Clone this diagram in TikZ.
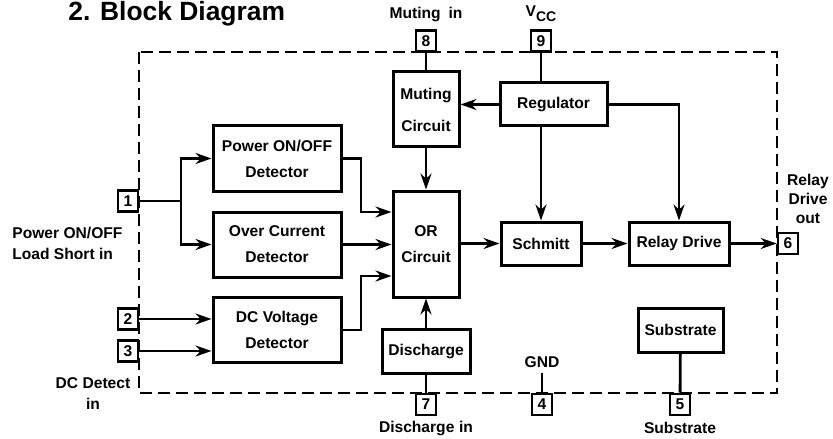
\documentclass[tikz,border=0pt]{standalone}
\usepackage{fontspec}
\setmainfont{Liberation Sans}
\usepackage{tikz}
\usetikzlibrary{arrows.meta,positioning,calc}

\begin{document}
\begin{tikzpicture}[x=0.5pt,y=-0.5pt,
  font=\bfseries\fontsize{7.8}{13}\selectfont,
  blk/.style={draw,line width=1.5pt,align=center,inner sep=0pt},
  pin/.style={draw,line width=1.3pt,minimum width=10pt,minimum height=10.5pt,inner sep=0pt},
  lbl/.style={align=center,inner sep=0pt},
  arr/.style={-{Stealth[length=8pt,width=5.5pt]},line width=1.4pt},
  wire/.style={line width=1.4pt}]
  \useasboundingbox (0,0) rectangle (833,438);
  \node[anchor=west,inner sep=0pt,font=\bfseries\fontsize{13.2}{15}\selectfont] (title) at (68,14) {2. Block Diagram};
  % package outline
  \draw[line width=1.4pt,dash pattern=on 6pt off 3pt] (139,52) rectangle (777,393);
  % blocks
  \node[blk,minimum width=64pt,minimum height=32.5pt] (pwr) at (277,158.5) {Power ON/OFF\\Detector};
  \node[blk,minimum width=64pt,minimum height=32.5pt] (ocd) at (277,244.5) {Over Current\\Detector};
  \node[blk,minimum width=64pt,minimum height=32.5pt] (dcv) at (277,330) {DC Voltage\\Detector};
  \node[blk,minimum width=33pt,minimum height=53pt] (orc) at (426,244) {OR\\Circuit};
  \node[blk,minimum width=33pt,minimum height=37.5pt] (mute) at (426,109.5) {Muting\\[3pt]Circuit};
  \node[blk,minimum width=53.5pt,minimum height=21.5pt] (reg) at (553.5,104.5) {Regulator};
  \node[blk,minimum width=40pt,minimum height=21.5pt] (sch) at (541,243.5) {Schmitt};
  \node[blk,minimum width=50pt,minimum height=21.5pt] (rly) at (679,243.5) {Relay Drive};
  \node[blk,minimum width=44pt,minimum height=22pt] (dis) at (426,351) {Discharge};
  \node[blk,minimum width=42.5pt,minimum height=22pt] (sub) at (680.5,330) {Substrate};
  % pins
  \node[pin] (p1) at (128,201) {1};
  \node[pin] (p2) at (128,319) {2};
  \node[pin] (p3) at (128,351) {3};
  \node[pin] (p8) at (426,41) {8};
  \node[pin] (p9) at (541,41) {9};
  \node[pin] (p6) at (788,243.5) {6};
  \node[pin] (p7) at (426,404.5) {7};
  \node[pin] (p4) at (542,404.5) {4};
  \node[pin] (p5) at (680,404.5) {5};
  % pin labels
  \node[lbl] (l8) at (426,15) {Muting\hspace{0.5em}in};
  \node[lbl] (l9) at (541,14) {V\raisebox{-2.5pt}{\fontsize{7}{8}\selectfont CC}};
  \node[lbl] (l6) at (808,199) {Relay\\[-3.5pt]Drive\\[-3.5pt]out};
  \node[lbl,align=left,anchor=west] (l1) at (12,243.5) {Power ON/OFF\\[-2.5pt]Load Short in};
  \node[lbl] (l23) at (93,394) {DC Detect\\[-2.5pt]in};
  \node[lbl] (l7) at (426,428) {Discharge\hspace{0.3em}in};
  \node[lbl] (l5) at (680,428) {Substrate};
  \node[lbl] (gndl) at (542,362) {GND};
  \coordinate (gnd) at (542,373);
  % connections
  \coordinate (split) at (181,201);
  \draw[wire] (p1) -- (split);
  \draw[arr] (split) |- (pwr);
  \draw[arr] (split) |- (ocd);
  \draw[arr] (p2) -- (p2 -| dcv.west);
  \draw[arr] (p3) -- (p3 -| dcv.west);
  \coordinate (j1) at (361,212);
  \coordinate (j2) at (361,276);
  \draw[arr] (pwr.east) -| (j1) -- (j1 -| orc.west);
  \draw[arr] (ocd) -- (ocd -| orc.west);
  \draw[arr] (dcv.east) -| (j2) -- (j2 -| orc.west);
  \draw[wire] (p8) -- (mute);
  \draw[arr] (mute) -- (orc);
  \draw[wire] (p9) -- (p9 |- reg.north);
  \draw[arr] (reg) -- (reg -| mute.east);
  \draw[arr] (sch.north |- reg.south) -- (sch);
  \draw[arr] (reg.east) -| (rly);
  \draw[arr] (orc.east |- sch) -- (sch);
  \draw[arr] (sch) -- (rly);
  \draw[arr] (rly) -- (p6);
  \draw[arr] (dis) -- (orc);
  \draw[wire] (dis) -- (p7);
  \draw[wire] (gnd) -- (p4);
  \draw[wire] (sub) -- (p5);
\end{tikzpicture}
\end{document}
